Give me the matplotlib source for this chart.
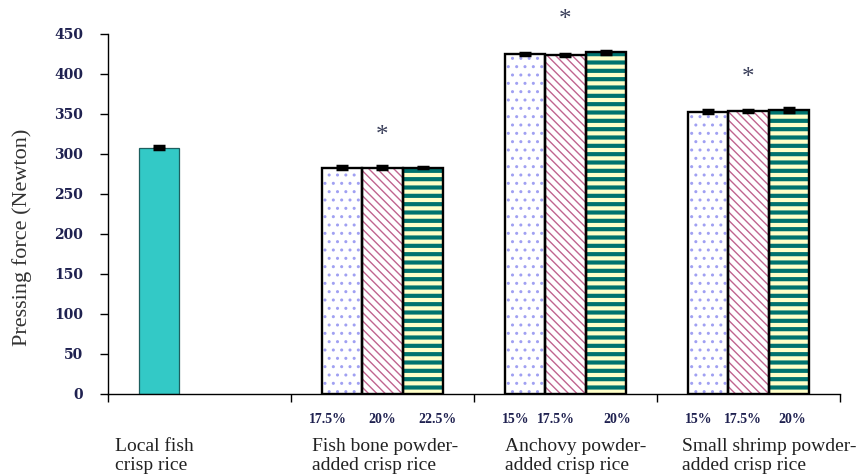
import matplotlib
matplotlib.use('Agg')
from matplotlib import pyplot as plt
from matplotlib.transforms import blended_transform_factory
import numpy as np

plt.rcParams['font.family'] = ['Liberation Serif', 'DejaVu Serif']

# data
name_line1 = ['Local fish', 'Fish bone powder-', 'Anchovy powder-', 'Small shrimp powder-']
name_line2 = ['crisp rice', 'added crisp rice', 'added crisp rice', 'added crisp rice']
local_value = 308
local_err = 2
level_labels = [['17.5%', '20%', '22.5%'],
                ['15%', '17.5%', '20%'],
                ['15%', '17.5%', '20%']]
level_values = [[283, 283, 283],
                [425, 424, 427],
                [353, 354, 355]]
level_errs = [[1.5, 1.5, 1],
              [1.5, 1.5, 2],
              [2, 1.5, 3]]
significant = [True, True, True]

fig = plt.figure(figsize=(8.61, 4.74), dpi=100)
ax = fig.add_axes([0.1254, 0.1688, 0.8502, 0.7595])

width = 0.22
offsets = [-width, 0, width]

# hatch styles for the three levels: (facecolor, hatch, hatchcolor, hatch lw)
styles = [('white', '..', '#a0a0f2', 1.0),
          ('white', '\\\\\\\\', '#c0658f', 1.0),
          ('#ffffc8', '--', '#00736e', 3.0)]

# local fish bar, sits in first slot of its group
ax.bar(0 + offsets[0], local_value, width, color='#33c9c6',
       edgecolor='#1d5f5f', linewidth=0.9, zorder=2)
ax.errorbar(0 + offsets[0], local_value, yerr=local_err, fmt='none',
            ecolor='black', elinewidth=2, capsize=4, capthick=2.5, zorder=4)

for g in range(3):
    xc = g + 1
    for k in range(3):
        fc, h, hc, hlw = styles[k]
        with plt.rc_context({'hatch.linewidth': hlw, 'hatch.color': hc}):
            b = ax.bar(xc + offsets[k], level_values[g][k], width, color=fc,
                       hatch=h, edgecolor=hc, linewidth=0, zorder=2)
            for p in b:
                if hasattr(p, 'set_hatch_linewidth'):
                    p.set_hatch_linewidth(hlw)
        ax.bar(xc + offsets[k], level_values[g][k], width, fill=False,
               edgecolor='black', linewidth=1.7, zorder=3)
        ax.errorbar(xc + offsets[k], level_values[g][k], yerr=level_errs[g][k],
                    fmt='none', ecolor='black', elinewidth=2, capsize=4,
                    capthick=2.5, zorder=4)
    if significant[g]:
        top = max(level_values[g])
        ax.text(xc, top + 40, '*', ha='center', va='center', fontsize=18,
                color='#3a3f5a', clip_on=False)

ax.set_xlim(-0.5, 3.5)
ax.set_ylim(0, 450)
ax.set_yticks(np.arange(0, 451, 50))
ax.set_xticks(np.arange(-0.5, 3.6, 1))
ax.set_xticklabels([])
for s in ['top', 'right']:
    ax.spines[s].set_visible(False)
for s in ['left', 'bottom']:
    ax.spines[s].set_linewidth(1.0)
ax.tick_params(axis='y', direction='out', length=6, width=1, pad=12,
               labelcolor='#1f2150')
ax.tick_params(axis='x', direction='out', length=6, width=1)
for t in ax.get_yticklabels():
    t.set_fontfamily('DejaVu Serif')
    t.set_fontweight('bold')
    t.set_fontsize(10)

ax.set_ylabel('Pressing force (Newton)', fontsize=16, color='#333333')
ax.yaxis.set_label_coords(-0.104, 0.436)

# labels under the axis
trans = blended_transform_factory(ax.transData, fig.transFigure)
pct_shift = [[-0.30, 0.0, 0.30],
             [-0.27, -0.05, 0.28],
             [-0.27, -0.03, 0.24]]
for g in range(3):
    for k in range(3):
        ax.text(g + 1 + pct_shift[g][k], 0.114, level_labels[g][k], transform=trans,
                ha='center', va='center', fontsize=10, fontweight='bold',
                color='#1f2150')

label_x = [-0.462, 0.615, 1.669, 2.637]
for x, l1, l2 in zip(label_x, name_line1, name_line2):
    ax.text(x, 0.049, l1, transform=trans, ha='left', va='baseline',
            fontsize=14, color='#222222')
    ax.text(x, 0.008, l2, transform=trans, ha='left', va='baseline',
            fontsize=14, color='#222222')

fig.savefig('out.png', dpi=100)
